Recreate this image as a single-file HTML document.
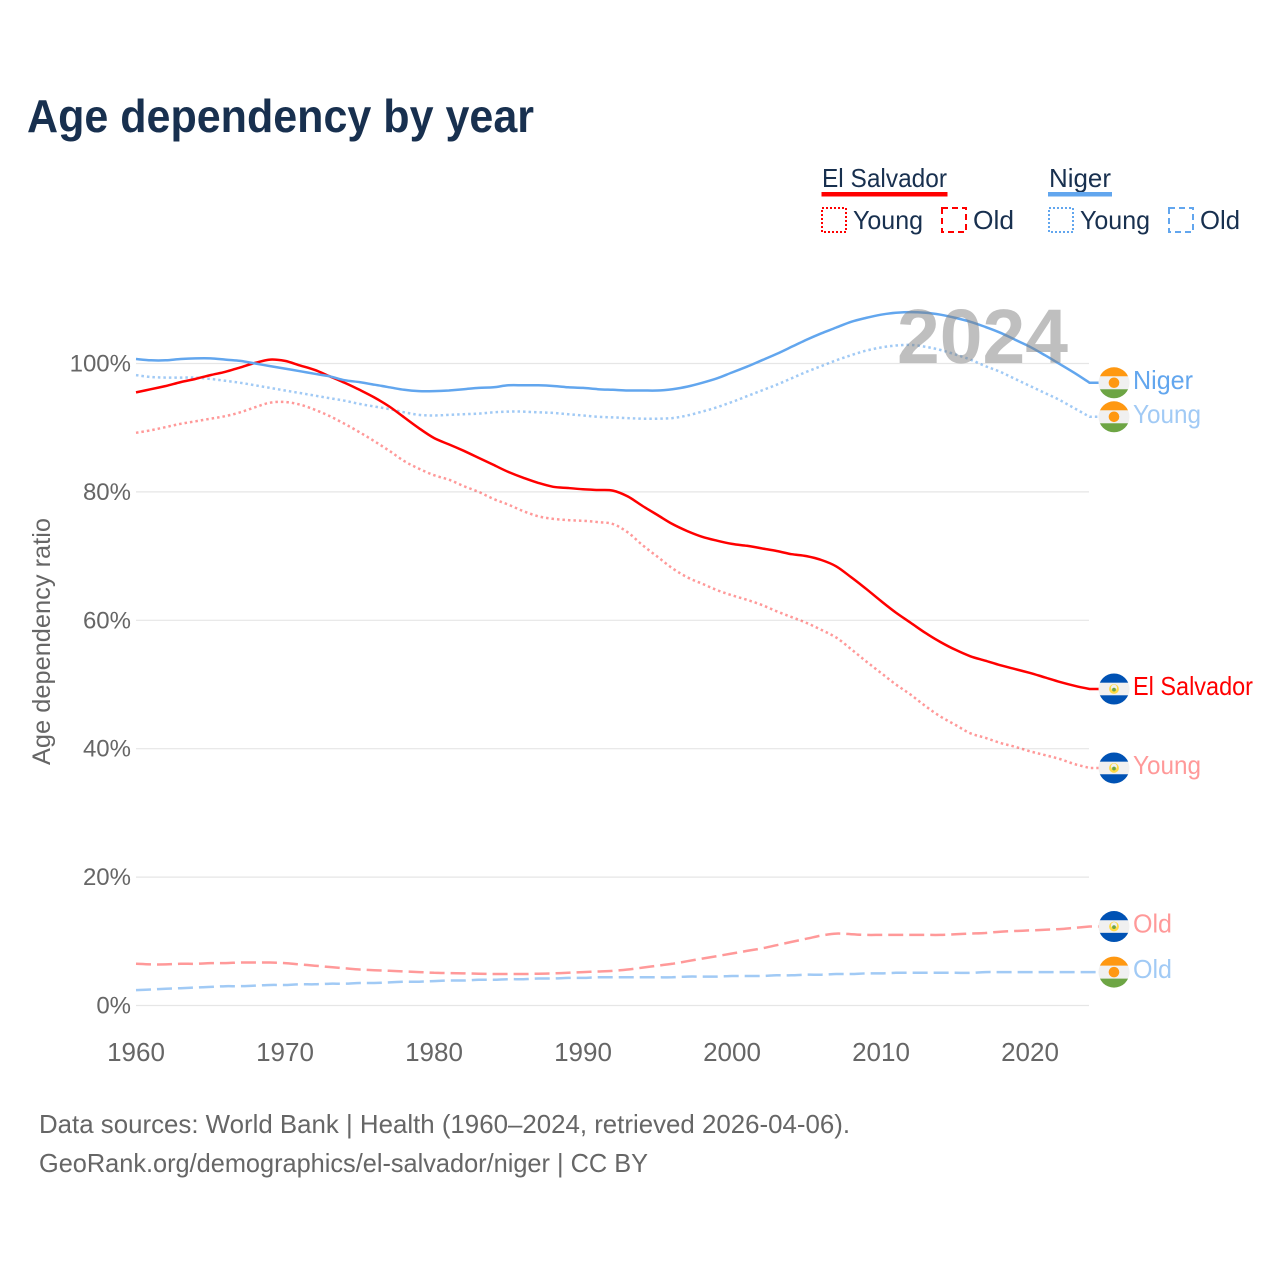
<!DOCTYPE html>
<html lang="en">
<head>
<meta charset="utf-8">
<title>Age dependency by year</title>
<style>
html,body{margin:0;padding:0;background:#fff}
svg{display:block}
text{font-family:"Liberation Sans",sans-serif}
</style>
</head>
<body>
<svg id="chart" xmlns="http://www.w3.org/2000/svg" width="1280" height="1280" viewBox="0 0 1280 1280">
  <rect x="0" y="0" width="1280" height="1280" fill="#fff"/>
  <text x="27" y="132" font-size="46" font-weight="700" fill="#18304f" textLength="507" lengthAdjust="spacingAndGlyphs">Age dependency by year</text>

  <g font-size="26" fill="#18304f">
    <text x="822" y="187" textLength="125" lengthAdjust="spacingAndGlyphs">El Salvador</text>
    <rect x="821.5" y="192" width="126" height="4.5" fill="#ff0000"/>
    <rect x="822" y="208" width="24" height="24" fill="none" stroke="#ff0000" stroke-width="2" stroke-dasharray="2 2"/>
    <text x="853" y="229" textLength="70" lengthAdjust="spacingAndGlyphs">Young</text>
    <rect x="942" y="208" width="24" height="24" fill="none" stroke="#ff0000" stroke-width="2" stroke-dasharray="6 4"/>
    <text x="973" y="229" textLength="41" lengthAdjust="spacingAndGlyphs">Old</text>
    <text x="1049" y="187" textLength="62" lengthAdjust="spacingAndGlyphs">Niger</text>
    <rect x="1048" y="192" width="64" height="4.5" fill="#62a6ee"/>
    <rect x="1049" y="208" width="24" height="24" fill="none" stroke="#62a6ee" stroke-width="2" stroke-dasharray="2 2"/>
    <text x="1080" y="229" textLength="70" lengthAdjust="spacingAndGlyphs">Young</text>
    <rect x="1169" y="208" width="24" height="24" fill="none" stroke="#62a6ee" stroke-width="2" stroke-dasharray="6 4"/>
    <text x="1200" y="229" textLength="40" lengthAdjust="spacingAndGlyphs">Old</text>
  </g>

  <g id="grid"></g>
  <g id="xaxis"></g>
  <g id="series"></g>
  <g id="ends"></g>

  <text transform="translate(50,765) rotate(-90)" font-size="25" fill="#666" textLength="247" lengthAdjust="spacingAndGlyphs">Age dependency ratio</text>
  <text x="897" y="363" font-size="77" font-weight="700" fill="#808080" fill-opacity="0.5" textLength="171" lengthAdjust="spacingAndGlyphs">2024</text>

  <text x="39" y="1133" font-size="26" fill="#666" textLength="811" lengthAdjust="spacingAndGlyphs">Data sources: World Bank | Health (1960–2024, retrieved 2026-04-06).</text>
  <text x="39" y="1172" font-size="26" fill="#666" textLength="609" lengthAdjust="spacingAndGlyphs">GeoRank.org/demographics/el-salvador/niger | CC BY</text>
</svg>
<script>
const years = [
  1960,1961,1962,1963,1964,1965,1966,1967,1968,1969,
  1970,1971,1972,1973,1974,1975,1976,1977,1978,1979,
  1980,1981,1982,1983,1984,1985,1986,1987,1988,1989,
  1990,1991,1992,1993,1994,1995,1996,1997,1998,1999,
  2000,2001,2002,2003,2004,2005,2006,2007,2008,2009,
  2010,2011,2012,2013,2014,2015,2016,2017,2018,2019,
  2020,2021,2022,2023,2024];
const elSalvadorTotal = [
  95.5,96,96.5,97.1,97.6,98.2,98.7,99.4,100.1,100.6,
  100.4,99.7,99,98,97,95.9,94.7,93.3,91.6,89.9,
  88.4,87.4,86.4,85.3,84.2,83.1,82.2,81.4,80.8,80.6,
  80.4,80.3,80.2,79.3,77.8,76.4,75,73.9,73,72.4,
  71.9,71.6,71.2,70.8,70.3,70,69.4,68.4,66.7,64.9,
  63,61.2,59.6,58,56.6,55.4,54.4,53.7,53,52.4,
  51.8,51.1,50.4,49.8,49.3];
const elSalvadorYoung = [
  89.2,89.6,90.1,90.6,91,91.4,91.8,92.4,93.2,93.9,
  94,93.6,92.8,91.8,90.6,89.3,87.9,86.4,84.8,83.6,
  82.6,81.9,80.9,80,78.9,78,77,76.2,75.8,75.6,
  75.5,75.3,75,73.7,71.7,69.9,68.1,66.7,65.7,64.7,
  63.9,63.2,62.4,61.4,60.5,59.6,58.5,57.3,55.5,53.6,
  51.8,50,48.4,46.6,45,43.7,42.4,41.7,40.9,40.3,
  39.6,39,38.4,37.6,37];
const elSalvadorOld = [
  6.5,6.4,6.4,6.5,6.5,6.6,6.6,6.7,6.7,6.7,
  6.6,6.4,6.2,6,5.8,5.6,5.5,5.4,5.3,5.2,
  5.1,5.05,5,4.95,4.9,4.9,4.9,4.95,5,5.1,
  5.2,5.3,5.4,5.6,5.9,6.2,6.5,6.9,7.3,7.7,
  8.1,8.5,8.9,9.4,9.9,10.4,10.9,11.2,11.1,11,
  11,11,11,11,11,11.1,11.2,11.3,11.5,11.6,
  11.7,11.8,11.9,12.1,12.3];
const nigerTotal = [
  100.7,100.5,100.5,100.7,100.8,100.8,100.6,100.4,100,99.6,
  99.2,98.8,98.4,98,97.4,97.1,96.7,96.3,95.9,95.7,
  95.7,95.8,96,96.2,96.3,96.6,96.6,96.6,96.5,96.3,
  96.2,96,95.9,95.8,95.8,95.8,96,96.4,97,97.7,
  98.6,99.5,100.5,101.5,102.6,103.7,104.7,105.6,106.5,107.1,
  107.6,107.9,108,107.9,107.6,107.1,106.5,105.7,104.8,103.7,
  102.6,101.3,99.9,98.5,97];
const nigerYoung = [
  98.2,97.9,97.8,97.8,97.8,97.6,97.3,97,96.6,96.2,
  95.8,95.4,95,94.6,94.2,93.7,93.3,92.9,92.4,92,
  91.9,92,92.1,92.2,92.4,92.5,92.5,92.4,92.3,92.1,
  91.9,91.7,91.6,91.5,91.4,91.4,91.5,91.9,92.5,93.2,
  94,94.9,95.8,96.7,97.7,98.7,99.6,100.5,101.3,102,
  102.5,102.8,102.9,102.6,102.1,101.4,100.6,99.6,98.7,97.6,
  96.5,95.4,94.3,93,91.7];
const nigerOld = [
  2.4,2.5,2.6,2.7,2.8,2.9,3,3,3.1,3.2,
  3.2,3.3,3.3,3.4,3.4,3.5,3.5,3.6,3.7,3.7,
  3.8,3.9,3.9,4,4,4.1,4.1,4.2,4.2,4.3,
  4.3,4.4,4.4,4.4,4.4,4.4,4.4,4.5,4.5,4.5,
  4.6,4.6,4.6,4.7,4.7,4.8,4.8,4.9,4.9,5,
  5,5.1,5.1,5.1,5.1,5.1,5.1,5.2,5.2,5.2,
  5.2,5.2,5.2,5.2,5.2];
const yTicks = [0,20,40,60,80,100];
const xTicks = [1960,1970,1980,1990,2000,2010,2020];

const NS = 'http://www.w3.org/2000/svg';
const xScale = function (year) { return 136 + (year - 1960) * 14.9; };
const yScale = function (pct) { return 1005.5 - pct * 6.42; };
const RED = '#ff0000', BLUE = '#62a6ee';
const gridLayer = document.getElementById('grid');
const xLayer = document.getElementById('xaxis');
const seriesLayer = document.getElementById('series');
const endLayer = document.getElementById('ends');

function mk(tag, parent) {
  const el = document.createElementNS(NS, tag);
  parent.appendChild(el);
  return el;
}

yTicks.forEach(function (t) {
  const line = mk('line', gridLayer);
  
  
  line.setAttribute('x1', 136);
  line.setAttribute('x2', 1089);
  line.setAttribute('y1', yScale(t));
  line.setAttribute('y2', yScale(t));
  line.setAttribute('stroke', '#e6e6e6');
  line.setAttribute('stroke-width', 1.2);
  const label = mk('text', gridLayer);
  
  
  label.setAttribute('x', 131);
  label.setAttribute('y', yScale(t) + 8);
  label.setAttribute('text-anchor', 'end');
  label.setAttribute('font-size', 24);
  label.setAttribute('fill', '#666');
  label.textContent = t + '%';
});

xTicks.forEach(function (t) {
  const label = mk('text', xLayer);
  
  
  label.setAttribute('x', xScale(t));
  label.setAttribute('y', 1061);
  label.setAttribute('text-anchor', 'middle');
  label.setAttribute('font-size', 26);
  label.setAttribute('fill', '#666');
  label.textContent = t;
});

function drawSeries(values, color, dash, opacity, name) {
  const path = mk('path', seriesLayer);
  
  
  const pts = values.map(function (v, i) { return [xScale(years[i]), yScale(v)]; });
  let d = 'M' + pts[0][0].toFixed(1) + ' ' + pts[0][1].toFixed(1);
  for (let i = 0; i < pts.length - 1; i++) {
    const p0 = pts[Math.max(i - 1, 0)], p1 = pts[i], p2 = pts[i + 1], p3 = pts[Math.min(i + 2, pts.length - 1)];
    d += 'C' + (p1[0] + (p2[0] - p0[0]) / 6).toFixed(1) + ' ' + (p1[1] + (p2[1] - p0[1]) / 6).toFixed(1) +
         ' ' + (p2[0] - (p3[0] - p1[0]) / 6).toFixed(1) + ' ' + (p2[1] - (p3[1] - p1[1]) / 6).toFixed(1) +
         ' ' + p2[0].toFixed(1) + ' ' + p2[1].toFixed(1);
  }
  d += 'L1099 ' + pts[pts.length - 1][1].toFixed(1);
  path.setAttribute('d', d);
  path.setAttribute('fill', 'none');
  path.setAttribute('stroke', color);
  path.setAttribute('stroke-width', 2.5);
  path.setAttribute('stroke-opacity', opacity);
  path.setAttribute('stroke-linejoin', 'round');
  if (dash) path.setAttribute('stroke-dasharray', dash);
}

function band(parent, cx, cy, y0, y1, color, clip) {
  const r = mk('rect', parent);
  
  
  r.setAttribute('x', cx - 16);
  r.setAttribute('y', cy + y0);
  r.setAttribute('width', 32);
  r.setAttribute('height', y1 - y0);
  r.setAttribute('fill', color);
  r.setAttribute('clip-path', 'url(#' + clip + ')');
}

function dot(parent, cx, cy, radius, color) {
  const c = mk('circle', parent);
  
  
  c.setAttribute('cx', cx);
  c.setAttribute('cy', cy);
  c.setAttribute('r', radius);
  c.setAttribute('fill', color);
}

let clipCount = 0;
function drawEnd(values, country, text, color, opacity, labelWidth) {
  const cy = yScale(values[values.length - 1]);
  const cx = 1114;
  const g = mk('g', endLayer);
  
  
  const id = 'flag-clip-' + (++clipCount);
  const clip = mk('clipPath', g);
  clip.setAttribute('id', id);
  const cc = mk('circle', clip);
  cc.setAttribute('cx', cx);
  cc.setAttribute('cy', cy);
  cc.setAttribute('r', 15.5);
  dot(g, cx, cy, 15.5, '#f0f0f0');
  if (country === 'niger') {
    band(g, cx, cy, -16, -6.5, '#ff9811', id);
    band(g, cx, cy, 6.5, 16, '#6da544', id);
    dot(g, cx, cy, 5.3, '#ff9811');
  } else {
    band(g, cx, cy, -16, -6.3, '#0052b4', id);
    band(g, cx, cy, 6.3, 16, '#0052b4', id);
    dot(g, cx, cy, 4.9, '#ffda44');
    dot(g, cx, cy - 1.4, 3, '#f0f0f0');
    dot(g, cx, cy + 0.6, 1.9, '#6da544');
  }
  const label = mk('text', g);
  
  
  label.setAttribute('x', 1133);
  label.setAttribute('y', cy + 6);
  label.setAttribute('font-size', 26);
  label.setAttribute('fill', color);
  label.setAttribute('fill-opacity', opacity);
  label.setAttribute('textLength', labelWidth);
  label.setAttribute('lengthAdjust', 'spacingAndGlyphs');
  label.textContent = text;
}

drawSeries(elSalvadorYoung, RED, '2.5 3', 0.4, 'el-salvador-young-line');
drawSeries(elSalvadorOld, RED, '15 6', 0.4, 'el-salvador-old-line');
drawSeries(nigerYoung, BLUE, '2.5 3', 0.6, 'niger-young-line');
drawSeries(nigerOld, BLUE, '15 6', 0.6, 'niger-old-line');
drawSeries(elSalvadorTotal, RED, null, 1, 'el-salvador-total-line');
drawSeries(nigerTotal, BLUE, null, 1, 'niger-total-line');

drawEnd(nigerTotal, 'niger', 'Niger', BLUE, 1, 60);
drawEnd(nigerYoung, 'niger', 'Young', BLUE, 0.6, 68);
drawEnd(elSalvadorTotal, 'el-salvador', 'El Salvador', RED, 1, 120);
drawEnd(elSalvadorYoung, 'el-salvador', 'Young', RED, 0.4, 68);
drawEnd(elSalvadorOld, 'el-salvador', 'Old', RED, 0.4, 39);
drawEnd(nigerOld, 'niger', 'Old', BLUE, 0.6, 39);
</script>
</body>
</html>
